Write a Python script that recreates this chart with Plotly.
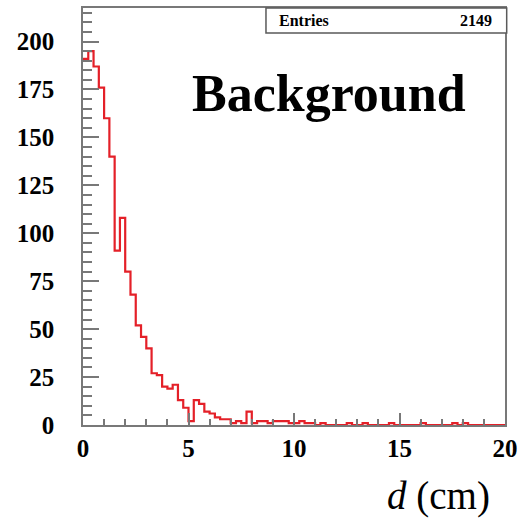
import numpy as np
import plotly.graph_objects as go

# Histogram: d (cm), 80 bins of 0.25 cm from 0 to 20
x_min, x_max, n_bins = 0.0, 20.0, 80
counts = [191, 195, 187, 176, 160, 140, 91, 108, 80, 68,
          52, 46, 40, 27, 26, 20, 19, 21, 13, 9,
          2, 13, 11, 7, 6, 4, 3, 3, 1, 2,
          1, 7, 1, 2, 2, 1, 2, 2, 2, 1,
          1, 2, 1, 1, 0, 1, 0, 0, 0, 0,
          1, 0, 0, 1, 0, 0, 0, 0, 1, 0,
          0, 0, 0, 0, 1, 0, 0, 0, 0, 0,
          1, 0, 1, 0, 0, 0, 0, 0, 0, 0]
entries_label = "Entries"
entries_value = "2149"
title_text = "Background"
x_title = "<i>d</i> (cm)"
x_ticks = [0, 5, 10, 15, 20]
y_ticks = [0, 25, 50, 75, 100, 125, 150, 175, 200]

edges = np.linspace(x_min, x_max, n_bins + 1)
xs = list(edges)
ys = list(counts) + [counts[-1]]

RED = "rgb(228,32,40)"
GRAY = "rgb(120,120,120)"
FONT = "Liberation Serif"

fig = go.Figure()
fig.add_trace(go.Scatter(x=xs, y=ys, mode="lines", line=dict(color=RED, width=2.2, shape="hv"),
                         hoverinfo="skip", showlegend=False))

fig.update_layout(
    width=518, height=520, autosize=False,
    margin=dict(l=83, r=13, t=8, b=95, autoexpand=False),
    paper_bgcolor="white", plot_bgcolor="white",
    font=dict(family=FONT, color="black"),
)
fig.update_xaxes(
    range=[x_min, x_max], tickvals=x_ticks, ticktext=[str(v) for v in x_ticks],
    ticks="inside", ticklen=12, tickwidth=1.5, tickcolor=GRAY,
    minor=dict(dtick=1, tick0=0, ticks="inside", ticklen=6, tickwidth=1.5, tickcolor=GRAY, showgrid=False),
    showline=True, linecolor=GRAY, linewidth=1.5, mirror=True,
    showgrid=False, zeroline=False, automargin=False,
    tickfont=dict(family=FONT, size=25, color="black", weight="bold"),
    ticklabelstandoff=0,
)
fig.update_yaxes(
    range=[0, 217.5], tickvals=y_ticks, ticktext=[str(v) for v in y_ticks],
    ticks="inside", ticklen=16, tickwidth=1.5, tickcolor=GRAY,
    minor=dict(dtick=5, tick0=0, ticks="inside", ticklen=9, tickwidth=1.5, tickcolor=GRAY, showgrid=False),
    showline=True, linecolor=GRAY, linewidth=1.5, mirror=True,
    showgrid=False, zeroline=False, automargin=False,
    tickfont=dict(family=FONT, size=25, color="black", weight="bold"),
    ticklabelstandoff=22,
)

# Stats box
fig.add_shape(type="rect", xref="paper", yref="paper", x0=0.4336, x1=1.004, y0=0.940, y1=1.0,
              line=dict(color="rgb(90,90,90)", width=1.5), fillcolor="white", layer="above")
fig.add_annotation(xref="paper", yref="paper", x=0.46, y=0.970, text=entries_label, showarrow=False,
                   xanchor="left", yanchor="middle", font=dict(family=FONT, size=16, color="black", weight="bold"))
fig.add_annotation(xref="paper", yref="paper", x=0.975, y=0.970, text=entries_value, showarrow=False,
                   xanchor="right", yanchor="middle", font=dict(family=FONT, size=16, color="black", weight="bold"))

# Title text
fig.add_annotation(xref="paper", yref="paper", x=0.2536, y=0.795, text=title_text, showarrow=False,
                   xanchor="left", yanchor="middle", font=dict(family=FONT, size=52, color="black", weight="bold"))

# X axis title
fig.add_annotation(xref="paper", yref="paper", x=0.969, y=-0.17, text=x_title, showarrow=False,
                   xanchor="right", yanchor="middle", font=dict(family=FONT, size=39, color="black"))

fig.write_html("out.html")
